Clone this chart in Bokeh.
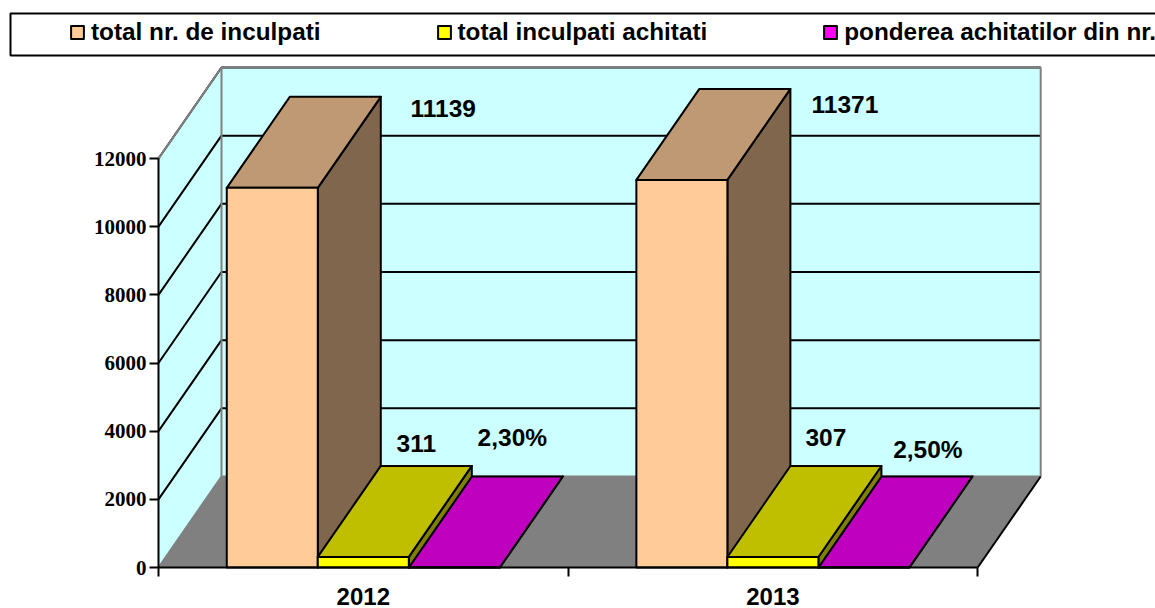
from bokeh.plotting import figure
from bokeh.embed import file_html
from bokeh.resources import INLINE
from bokeh.models import Range1d, FixedTicker, Legend, LegendItem, BoxAnnotation

# ---- data ----
years = ["2012", "2013"]
total_inculpati = [11139, 11371]
total_achitati = [311, 307]
ponderea = [2.30, 2.50]
labels_total = ["11139", "11371"]
labels_achitati = ["311", "307"]
labels_ponderea = ["2,30%", "2,50%"]
series_names = ["total nr. de inculpati", "total inculpati achitati", "ponderea achitatilor din nr."]
y_ticks = [0, 2000, 4000, 6000, 8000, 10000, 12000]

# ---- styles ----
front_colors = ["#FFCC99", "#FFFF00", "#FF00FF"]
top_colors = ["#BF9973", "#BFBF00", "#BF00BF"]
side_colors = ["#80664D", "#808000", "#800080"]
WALL, FLOOR, EDGE = "#CCFFFF", "#808080", "#808080"
PX_X, PX_Y = 409.6, 409.0 / 12000
DX, DY = 63 / PX_X, 91 / PX_Y          # depth of the oblique projection
GAP, BAR = 1 / 6, 2 / 9                # category fractions
W, H = 1155, 608
ORIGIN_X, ORIGIN_Y = 158, 567
HELV = "Liberation Sans"

p = figure(width=W, height=H, output_backend="svg", toolbar_location=None,
           x_range=Range1d(-ORIGIN_X / PX_X, (W - ORIGIN_X) / PX_X),
           y_range=Range1d(-(H - ORIGIN_Y) / PX_Y, ORIGIN_Y / PX_Y),
           min_border=0)
p.outline_line_color = None
p.grid.visible = False
p.background_fill_color = "white"

# walls and floor
ymax = y_ticks[-1]
nx = len(years)
p.patch([0, DX, DX, 0], [0, DY, ymax + DY, ymax], fill_color=WALL, line_color=None)
p.patch([DX, nx + DX, nx + DX, DX], [DY, DY, ymax + DY, ymax + DY], fill_color=WALL, line_color=None)
for t in y_ticks[1:]:
    p.line([0, DX, nx + DX], [t, t + DY, t + DY], line_color="black", line_width=2)
p.patch([0, DX, nx + DX, nx], [0, DY, DY, 0], fill_color=FLOOR, line_color=None)
p.line([0, DX, nx + DX, nx + DX], [ymax, ymax + DY, ymax + DY, DY], line_color=EDGE, line_width=2)
p.line([DX, DX], [ymax + DY, DY], line_color=EDGE, line_width=2)
p.line([0, DX, nx + DX], [0, DY, DY], line_color=EDGE, line_width=2)
p.line([nx, nx + DX], [0, DY], line_color="black", line_width=2)

series = [total_inculpati, total_achitati, ponderea]
front_renderers = {}


def draw_bar(cat, k, v):
    x0 = cat + GAP + k * BAR
    x1 = x0 + BAR
    style = dict(line_color="black", line_width=2, line_join="round")
    p.patch([x1, x1 + DX, x1 + DX, x1], [0, DY, v + DY, v], fill_color=side_colors[k], **style)
    p.patch([x0, x1, x1 + DX, x0 + DX], [v, v, v + DY, v + DY], fill_color=top_colors[k], **style)
    r = p.patch([x0, x1, x1, x0], [0, 0, v, v], fill_color=front_colors[k], **style)
    front_renderers.setdefault(k, r)


for c in range(nx):
    for k in (0, 2, 1):
        draw_bar(c, k, series[k][c])

# data labels
lab_x, lab_y, lab_t, lab_dx, lab_dy = [], [], [], [], []
offsets = {0: [(108, -12), (100, -16)], 1: [(-10, 22), (-10, 29)], 2: [(-5, 39), (1, 27)]}
texts = [labels_total, labels_achitati, labels_ponderea]
for k in range(3):
    for c in range(nx):
        lab_x.append(c + GAP + (k + 0.5) * BAR + DX)
        lab_y.append(series[k][c] + DY)
        lab_t.append(texts[k][c])
        lab_dx.append(offsets[k][c][0])
        lab_dy.append(-offsets[k][c][1])
p.text(lab_x, lab_y, text=lab_t, x_offset=lab_dx, y_offset=lab_dy,
       text_align="center", text_baseline="middle", text_color="black",
       text_font_size="24.5px", text_font_style="bold", text_font={"value": HELV})

# axes
ya = p.yaxis[0]
ya.fixed_location = 0
ya.ticker = FixedTicker(ticks=y_ticks)
ya.bounds = (0, ymax)
ya.axis_line_color = "black"
ya.axis_line_width = 2
ya.major_tick_line_width = 2
ya.major_tick_line_color = "black"
ya.major_tick_in = 0
ya.major_tick_out = 9
ya.minor_tick_line_color = None
ya.major_label_standoff = 3
ya.major_label_text_font = "Liberation Serif"
ya.major_label_text_font_style = "bold"
ya.major_label_text_font_size = "21px"
ya.major_label_text_color = "black"

xa = p.xaxis[0]
xa.fixed_location = 0
xa.ticker = FixedTicker(ticks=[i + 0.5 for i in range(nx)], minor_ticks=list(range(nx + 1)))
xa.major_label_overrides = {i + 0.5: years[i] for i in range(nx)}
xa.bounds = (0, nx)
xa.axis_line_color = "black"
xa.axis_line_width = 2
xa.major_tick_line_color = None
xa.minor_tick_line_color = "black"
xa.minor_tick_line_width = 2
xa.minor_tick_in = 0
xa.minor_tick_out = 9
xa.major_label_standoff = 11
xa.major_label_text_font = HELV
xa.major_label_text_font_style = "bold"
xa.major_label_text_font_size = "24px"
xa.major_label_text_color = "black"

# legend box runs off the right edge of the picture, as in the reference
p.add_layout(BoxAnnotation(left=10, right=W + 40, top=H - 13, bottom=H - 55,
                           left_units="screen", right_units="screen",
                           top_units="screen", bottom_units="screen",
                           fill_color="white", fill_alpha=1.0,
                           line_color="black", line_width=2, line_alpha=1.0))
legend = Legend(
    items=[LegendItem(label=series_names[k], renderers=[front_renderers[k]]) for k in range(3)],
    orientation="horizontal", location=(69, H - 46), margin=0, padding=9, spacing=115,
    glyph_width=16, glyph_height=16, label_standoff=6, label_height=24,
    label_text_font=HELV, label_text_font_style="bold", label_text_font_size="24.3px",
    label_text_color="black", border_line_color=None, background_fill_alpha=0.0)
p.add_layout(legend, "center")

open("out.html", "w").write(file_html(p, INLINE))
